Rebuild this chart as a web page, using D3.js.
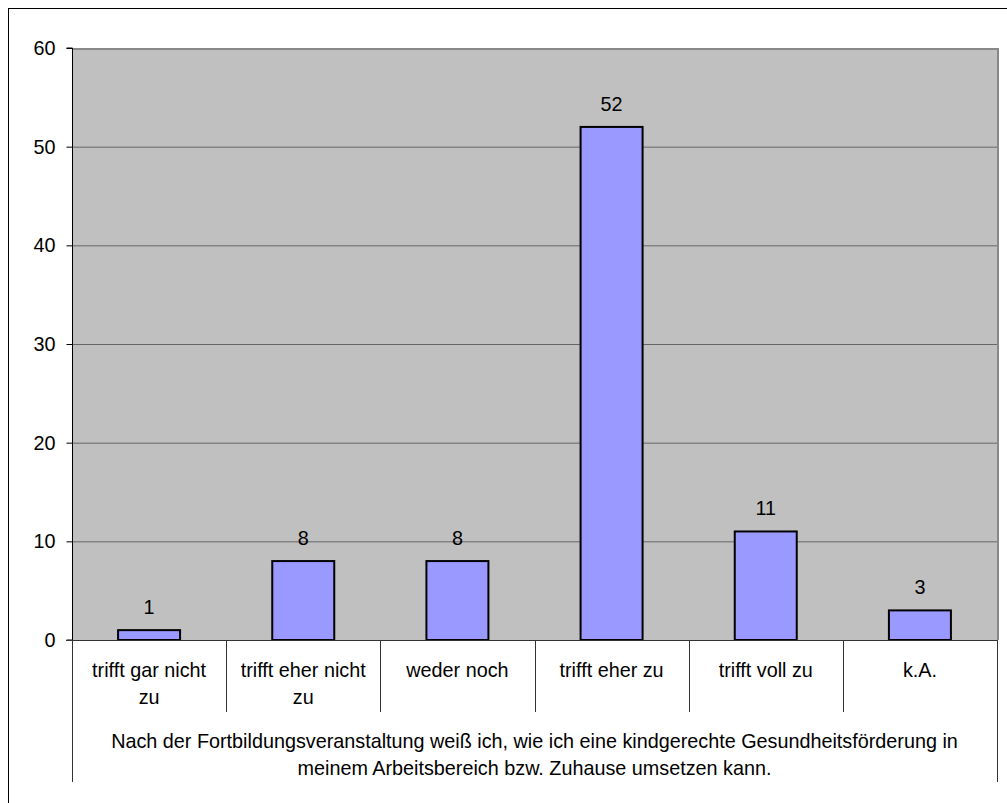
<!DOCTYPE html>
<html>
<head>
<meta charset="utf-8">
<script src="https://d3js.org/d3.v7.min.js"></script>
<style>
body { margin: 0; background: #fff; }
text { font-family: "Liberation Sans", Arial, sans-serif; fill: #000; }
</style>
</head>
<body>
<svg width="1007" height="803"></svg>
<script>
// data
var categories = ["trifft gar nicht zu", "trifft eher nicht zu", "weder noch", "trifft eher zu", "trifft voll zu", "k.A."];
var categoryLines = [["trifft gar nicht", "zu"], ["trifft eher nicht", "zu"], ["weder noch"], ["trifft eher zu"], ["trifft voll zu"], ["k.A."]];
var values = [1, 8, 8, 52, 11, 3];
var yTicks = [0, 10, 20, 30, 40, 50, 60];
var groupLabel = ["Nach der Fortbildungsveranstaltung weiß ich, wie ich eine kindgerechte Gesundheitsförderung in",
                  "meinem Arbeitsbereich bzw. Zuhause umsetzen kann."];

var svg = d3.select("svg");
var fs = "19.8px";

// outer frame (right/bottom run off the picture)
svg.append("rect")
    .attr("x", 8.5).attr("y", 8.5)
    .attr("width", 1010).attr("height", 810)
    .attr("fill", "none").attr("stroke", "#000").attr("stroke-width", 1);

var pLeft = 72, pRight = 997, pTop = 48, pBottom = 640;

var x = d3.scaleBand().domain(categories).range([pLeft, pRight]).paddingInner(0).paddingOuter(0);
var y = d3.scaleLinear().domain([0, 60]).range([pBottom, pTop]);

// plot area
svg.append("rect")
    .attr("x", pLeft).attr("y", pTop)
    .attr("width", pRight - pLeft).attr("height", pBottom - pTop)
    .attr("fill", "#c0c0c0");

// gridlines
svg.append("g").selectAll("line")
    .data(yTicks.filter(function(d) { return d > 0 && d < 60; }))
    .enter().append("line")
    .attr("x1", pLeft).attr("x2", pRight)
    .attr("y1", function(d) { return y(d) + 0.5; })
    .attr("y2", function(d) { return y(d) + 0.5; })
    .attr("stroke", "#666").attr("stroke-width", 1);

// plot border top & right
svg.append("path")
    .attr("d", "M" + pLeft + "," + (pTop + 1) + "H" + (pRight + 1) + "V" + pBottom)
    .attr("fill", "none").attr("stroke", "#888").attr("stroke-width", 2);

// bars
var bw = 62;
svg.append("g").selectAll("rect")
    .data(values)
    .enter().append("rect")
    .attr("x", function(d, i) { return x(categories[i]) + x.bandwidth() / 2 - bw / 2; })
    .attr("y", function(d) { return y(d); })
    .attr("width", bw)
    .attr("height", function(d) { return y(0) - y(d); })
    .attr("fill", "#9999ff")
    .attr("stroke", "#000").attr("stroke-width", 2);

// value labels
svg.append("g").selectAll("text")
    .data(values)
    .enter().append("text")
    .attr("x", function(d, i) { return x(categories[i]) + x.bandwidth() / 2; })
    .attr("y", function(d) { return y(d) - 16; })
    .attr("text-anchor", "middle")
    .style("font-size", fs)
    .text(function(d) { return d; });

// y axis
var yAxis = svg.append("g")
    .attr("transform", "translate(" + (pLeft + 0.5) + ",0)")
    .call(d3.axisLeft(y).tickValues(yTicks).tickSize(6).tickPadding(11));
yAxis.select(".domain").attr("stroke", "#000").attr("d", "M-6," + pTop + "H0V" + pBottom + "H-6");
yAxis.selectAll(".tick line").attr("stroke", "#000");
yAxis.selectAll(".tick text")
    .style("font-size", fs)
    .style("font-family", "Liberation Sans, Arial, sans-serif")
    .attr("fill", "#000");

// x axis baseline
svg.append("line")
    .attr("x1", pLeft - 6).attr("x2", pRight)
    .attr("y1", pBottom + 0.5).attr("y2", pBottom + 0.5)
    .attr("stroke", "#333").attr("stroke-width", 1);

// category separators
var seps = categories.map(function(c) { return x(c); }).concat([pRight]);
svg.append("g").selectAll("line")
    .data(seps)
    .enter().append("line")
    .attr("x1", function(d) { return Math.round(d) + 0.5; })
    .attr("x2", function(d) { return Math.round(d) + 0.5; })
    .attr("y1", pBottom)
    .attr("y2", function(d, i) { return (i === 0 || i === seps.length - 1) ? 782 : 712; })
    .attr("stroke", "#333").attr("stroke-width", 1);

// category labels
var catG = svg.append("g").selectAll("text")
    .data(categoryLines)
    .enter().append("text")
    .attr("x", function(d, i) { return x(categories[i]) + x.bandwidth() / 2; })
    .attr("y", 677)
    .attr("text-anchor", "middle")
    .style("font-size", fs);
catG.selectAll("tspan")
    .data(function(d) { return d; })
    .enter().append("tspan")
    .attr("x", function() { return d3.select(this.parentNode).attr("x"); })
    .attr("dy", function(d, i) { return i === 0 ? 0 : 27; })
    .text(function(d) { return d; });

// group label
svg.append("g").selectAll("text")
    .data(groupLabel)
    .enter().append("text")
    .attr("x", (pLeft + pRight) / 2)
    .attr("y", function(d, i) { return 748 + i * 27; })
    .attr("text-anchor", "middle")
    .style("font-size", fs)
    .text(function(d) { return d; });
</script>
</body>
</html>
